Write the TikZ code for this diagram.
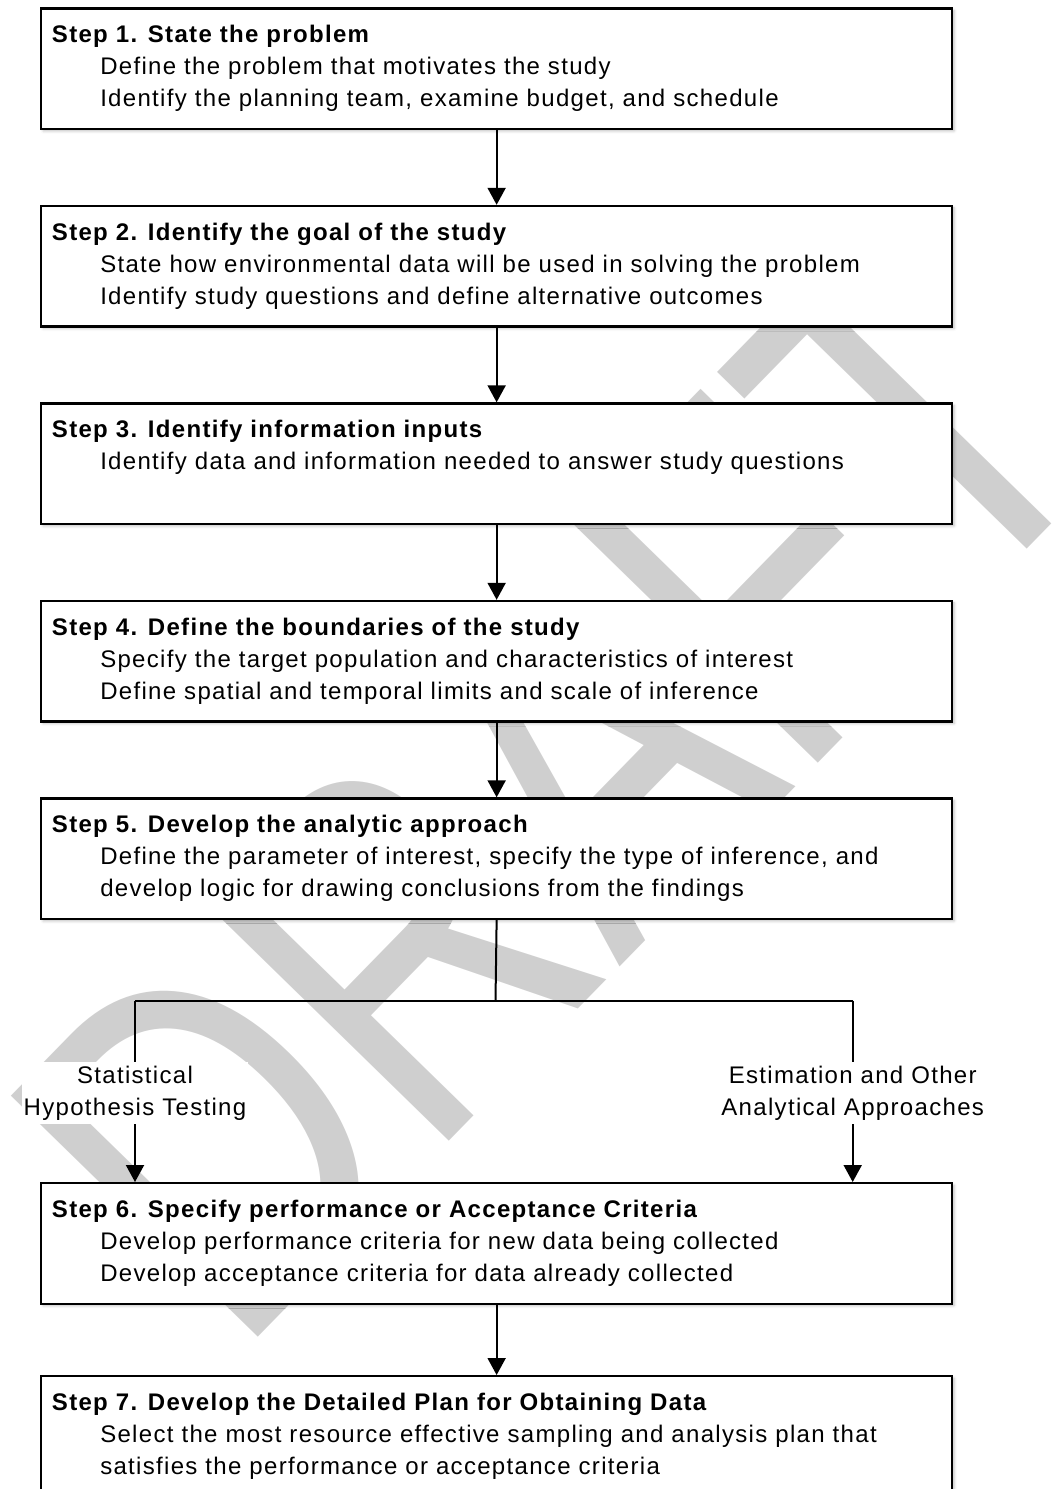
\documentclass[tikz,border=0pt]{standalone}
\usepackage{graphicx}
\usepackage{fontspec}
\setmainfont{Liberation Sans}
\newfontfamily\boxfont[LetterSpace=5.5]{Liberation Sans}
\usetikzlibrary{arrows.meta,shadows.blur}
\definecolor{wmgray}{gray}{0.81}

\begin{document}
\begin{tikzpicture}[x=0.75pt,y=-0.75pt,
  stepbox/.style={draw=black, line width=1.7pt, fill=white, rectangle,
    anchor=north west, minimum width=683.25pt, minimum height=90.4pt, inner sep=0pt,
    blur shadow={shadow xshift=1.5pt, shadow yshift=-1.5pt,
      shadow blur radius=2pt, shadow opacity=25}},
  steptitle/.style={anchor=base west, inner sep=0pt,
    font=\boxfont\bfseries\fontsize{18pt}{24pt}\selectfont},
  stepline/.style={anchor=base west, inner sep=0pt,
    font=\boxfont\fontsize{18pt}{24pt}\selectfont},
  flow/.style={line width=1.5pt, -{Triangle[length=12.75pt,width=13.5pt]}},
  link/.style={line width=1.5pt},
  branch/.style={align=center, fill=white, inner xsep=1pt, inner ysep=3pt,
    font=\boxfont\fontsize{18pt}{24pt}\selectfont},
  watermark/.style={text=wmgray, inner sep=0pt,
    font=\fontsize{285pt}{300pt}\selectfont}
]
\clip (0,0) rectangle (1056,1489);

% watermark lying behind the flow chart
\node[watermark, rotate=45.7, anchor=base west] (wm) at (236,1360)
  {\scalebox{1}[1.32]{DRAFT}};

% step boxes
\node[stepbox] (s1) at (40,7.3) {};
\node[stepbox] (s2) at (40,204.8) {};
\node[stepbox] (s3) at (40,402.3) {};
\node[stepbox] (s4) at (40,599.8) {};
\node[stepbox] (s5) at (40,797.3) {};
\node[stepbox] (s6) at (40,1182) {};
\node[stepbox, minimum height=100pt] (s7) at (40,1375) {};

% step texts
\node[steptitle] (s1t) at ([shift={(11.7,35.5)}]s1.north west) {Step 1. State the problem};
\node[stepline] (s1a) at ([shift={(60,67.5)}]s1.north west) {Define the problem that motivates the study};
\node[stepline] (s1b) at ([shift={(60,99.5)}]s1.north west) {Identify the planning team, examine budget, and schedule};

\node[steptitle] (s2t) at ([shift={(11.7,35.5)}]s2.north west) {Step 2. Identify the goal of the study};
\node[stepline] (s2a) at ([shift={(60,67.5)}]s2.north west) {State how environmental data will be used in solving the problem};
\node[stepline] (s2b) at ([shift={(60,99.5)}]s2.north west) {Identify study questions and define alternative outcomes};

\node[steptitle] (s3t) at ([shift={(11.7,35.5)}]s3.north west) {Step 3. Identify information inputs};
\node[stepline] (s3a) at ([shift={(60,67.5)}]s3.north west) {Identify data and information needed to answer study questions};

\node[steptitle] (s4t) at ([shift={(11.7,35.5)}]s4.north west) {Step 4. Define the boundaries of the study};
\node[stepline] (s4a) at ([shift={(60,67.5)}]s4.north west) {Specify the target population and characteristics of interest};
\node[stepline] (s4b) at ([shift={(60,99.5)}]s4.north west) {Define spatial and temporal limits and scale of inference};

\node[steptitle] (s5t) at ([shift={(11.7,35.5)}]s5.north west) {Step 5. Develop the analytic approach};
\node[stepline] (s5a) at ([shift={(60,67.5)}]s5.north west) {Define the parameter of interest, specify the type of inference, and};
\node[stepline] (s5b) at ([shift={(60,99.5)}]s5.north west) {develop logic for drawing conclusions from the findings};

\node[steptitle] (s6t) at ([shift={(11.7,35.5)}]s6.north west) {Step 6. Specify performance or Acceptance Criteria};
\node[stepline] (s6a) at ([shift={(60,67.5)}]s6.north west) {Develop performance criteria for new data being collected};
\node[stepline] (s6b) at ([shift={(60,99.5)}]s6.north west) {Develop acceptance criteria for data already collected};

\node[steptitle] (s7t) at ([shift={(11.7,35.5)}]s7.north west) {Step 7. Develop the Detailed Plan for Obtaining Data};
\node[stepline] (s7a) at ([shift={(60,67.5)}]s7.north west) {Select the most resource effective sampling and analysis plan that};
\node[stepline] (s7b) at ([shift={(60,99.5)}]s7.north west) {satisfies the performance or acceptance criteria};

% straight connectors
\draw[flow] (s1.south) -- (s2.north);
\draw[flow] (s2.south) -- (s3.north);
\draw[flow] (s3.south) -- (s4.north);
\draw[flow] (s4.south) -- (s5.north);
\draw[flow] (s6.south) -- (s7.north);

% branch after step 5
\node[branch] (hyp) at (135,1093) {Statistical\\Hypothesis Testing};
\node[branch] (est) at (852.7,1093) {Estimation and Other\\Analytical Approaches};
\coordinate (fork) at (495.5,1000.7);
\coordinate (forkl) at (hyp.north |- fork);
\coordinate (forkr) at (est.north |- fork);
\draw[link] (s5.south) -- (fork);
\draw[link] (forkl) -- (forkr);
\draw[link] (forkl) -- (hyp.north);
\draw[link] (forkr) -- (est.north);
\draw[flow] (hyp.south) -- (hyp.south |- s6.north);
\draw[flow] (est.south) -- (est.south |- s6.north);
\end{tikzpicture}
\end{document}
